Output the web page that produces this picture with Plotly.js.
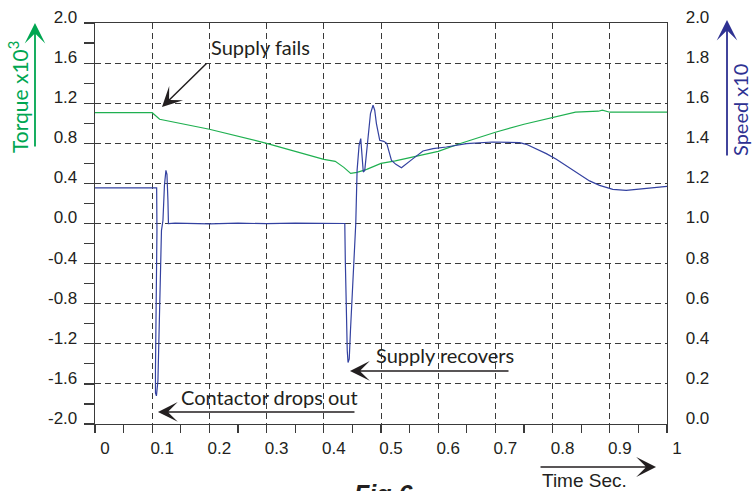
<!DOCTYPE html>
<html>
<head>
<meta charset="utf-8">
<script src="https://cdn.plot.ly/plotly-3.0.1.min.js"></script>
<style>html,body{margin:0;padding:0;background:#fff;}#chart{width:752px;height:491px;}</style>
</head>
<body>
<div id="chart"></div>
<script>
// ---- data ----
const timeTorque = [0, 0.10, 0.113, 0.2, 0.3, 0.4, 0.42, 0.435, 0.447, 0.458,
                    0.475, 0.5, 0.525, 0.555, 0.6, 0.64, 0.7, 0.75, 0.8, 0.84,
                    0.88, 0.887, 0.9, 1.0];
const torque     = [1.105, 1.105, 1.04, 0.94, 0.80, 0.64, 0.62, 0.56, 0.50, 0.51,
                    0.54, 0.60, 0.625, 0.66, 0.72, 0.80, 0.91, 0.99, 1.06, 1.11,
                    1.12, 1.13, 1.11, 1.11];

const timeSpeed = [0, 0.1078, 0.1083, 0.1066, 0.1057, 0.1057, 0.1074, 0.110, 0.1118, 0.1135,
                   0.1162, 0.1188, 0.1214, 0.124, 0.1258, 0.1275, 0.1284, 0.14, 0.2, 0.25,
                   0.3, 0.35, 0.4, 0.4367, 0.4376, 0.4393, 0.441, 0.4424, 0.4445, 0.4466,
                   0.4489, 0.4512, 0.4559, 0.4582, 0.4617, 0.4646, 0.4676, 0.469, 0.4716, 0.4756,
                   0.4816, 0.4861, 0.489, 0.492, 0.4978, 0.5048, 0.51, 0.5183, 0.526, 0.5357,
                   0.545, 0.556, 0.5734, 0.591, 0.6143, 0.6493, 0.695, 0.7424, 0.754, 0.789,
                   0.8065, 0.8355, 0.8646, 0.8821, 0.9053, 0.9287, 0.9636, 1.0];
const speed     = [1.178, 1.178, 0.965, 0.615, 0.265, 0.155, 0.14, 0.215, 0.465, 0.715,
                   0.965, 1.015, 1.19, 1.265, 1.245, 1.115, 1.0, 1.002, 0.998, 1.002,
                   0.999, 1.002, 1.0, 1.0, 0.815, 0.515, 0.365, 0.307, 0.325, 0.465,
                   0.615, 0.73, 1.0, 1.265, 1.39, 1.4235, 1.315, 1.257, 1.265, 1.39,
                   1.5485, 1.59, 1.565, 1.4985, 1.415, 1.41, 1.40, 1.315, 1.295, 1.2785,
                   1.2975, 1.3235, 1.3615, 1.3735, 1.3815, 1.3985, 1.4065, 1.4035, 1.395, 1.3485,
                   1.32, 1.265, 1.2125, 1.19, 1.17, 1.165, 1.1735, 1.185];

const xTickVals  = [0, 0.1, 0.2, 0.3, 0.4, 0.5, 0.6, 0.7, 0.8, 0.9, 1];
const xTickText  = ['0', '0.1', '0.2', '0.3', '0.4', '0.5', '0.6', '0.7', '0.8', '0.9', '1'];
const yTickVals  = [-2, -1.6, -1.2, -0.8, -0.4, 0, 0.4, 0.8, 1.2, 1.6, 2];
const yTickText  = ['-2.0', '-1.6', '-1.2', '-0.8', '-0.4', '0.0', '0.4', '0.8', '1.2', '1.6', '2.0'];
const y2TickVals = [0, 0.2, 0.4, 0.6, 0.8, 1.0, 1.2, 1.4, 1.6, 1.8, 2.0];
const y2TickText = ['0.0', '0.2', '0.4', '0.6', '0.8', '1.0', '1.2', '1.4', '1.6', '1.8', '2.0'];

// ---- styles ----
const GREEN = '#1fb050', BLUE = '#3341a0', INK = '#231f20', AX = '#3a3a3a';
const tickFont = {family: 'Liberation Sans, Arial, sans-serif', size: 17, color: INK};
const noteFont = {family: 'Lato, sans-serif', size: 20, color: INK};

const traces = [
  {x: timeTorque, y: torque, type: 'scatter', mode: 'lines', yaxis: 'y',
   line: {color: GREEN, width: 1.2}, hoverinfo: 'skip'},
  {x: timeSpeed, y: speed, type: 'scatter', mode: 'lines', yaxis: 'y2',
   line: {color: BLUE, width: 1.2}, hoverinfo: 'skip'}
];

function arrow(x, y, ax, ay, ref, color, w, size) {
  return {x: x, y: y, xref: ref === 'paper' ? 'paper' : 'x', yref: ref === 'paper' ? 'paper' : 'y',
          text: '', showarrow: true, ax: ax, ay: ay, arrowhead: 3,
          arrowsize: size || 2.2, arrowwidth: w || 1.5, arrowcolor: color || INK,
          standoff: 0, startstandoff: 0};
}
function label(x, y, ref, text, font, angle) {
  return {x: x, y: y, xref: ref === 'paper' ? 'paper' : 'x', yref: ref === 'paper' ? 'paper' : 'y',
          xanchor: 'center', yanchor: 'middle', text: text, showarrow: false,
          textangle: angle || 0, font: font};
}

const annotations = [
  label(0.2885, 1.761, 'x', 'Supply fails', noteFont),
  arrow(0.1171, 1.162, 46, -45),
  label(0.6119, -1.312, 'x', 'Supply recovers', noteFont),
  arrow(0.4458, -1.471, 160, 0),
  label(0.3059, -1.731, 'x', 'Contactor drops out', noteFont),
  arrow(0.1101, -1.880, 198, 0),
  label(0.8566, -0.1421, 'paper', 'Time Sec.',
        {family: 'Liberation Sans, Arial, sans-serif', size: 19, color: INK}),
  arrow(0.9808, -0.1072, -117, 0, 'paper'),
  {x: 0.4493, y: -0.1347, xref: 'paper', yref: 'paper', xanchor: 'left', yanchor: 'top',
   text: 'Fig 6', showarrow: false,
   font: {family: 'Liberation Sans, Arial, sans-serif', size: 25, color: INK, weight: 'bold', style: 'italic'}},
  label(-0.1346, 0.8155, 'paper', 'Torque x10<sup>3</sup>',
        {family: 'Lato, sans-serif', size: 21, color: '#00a651'}, -90),
  arrow(-0.1049, 1.0, 0, 125, 'paper', '#00a651', 1.8, 1.9),
  label(1.1276, 0.783, 'paper', 'Speed x10',
        {family: 'Lato, sans-serif', size: 20, color: '#2e3192'}, -90),
  arrow(1.1049, 1.0075, 0, 137, 'paper', '#2e3192', 1.8, 1.9)
];

const layout = {
  width: 752, height: 491,
  margin: {l: 95, r: 85, t: 23, b: 67, pad: 0},
  paper_bgcolor: '#ffffff', plot_bgcolor: '#ffffff',
  showlegend: false,
  xaxis: {
    range: [0, 1], tickmode: 'array', tickvals: xTickVals, ticktext: xTickText,
    showline: true, linecolor: AX, linewidth: 1.3, mirror: true,
    ticks: 'outside', ticklen: 8, tickcolor: AX, tickwidth: 1.2,
    showgrid: true, gridcolor: AX, gridwidth: 1, griddash: '6px,4px',
    zeroline: false, tickfont: tickFont, ticklabelshift: 10,
    minor: {tickmode: 'linear', tick0: 0, dtick: 0.05, ticks: 'outside', ticklen: 8,
            tickcolor: AX, tickwidth: 1.2, showgrid: false}
  },
  yaxis: {
    range: [-2, 2], tickmode: 'array', tickvals: yTickVals, ticktext: yTickText,
    showline: true, linecolor: AX, linewidth: 1.3, mirror: true,
    ticks: 'outside', ticklen: 10, tickcolor: AX, tickwidth: 1.2,
    showgrid: true, gridcolor: AX, gridwidth: 1, griddash: '6px,4px',
    zeroline: false, tickfont: tickFont, ticklabelshift: -6, ticklabelstandoff: 3,
    minor: {tickmode: 'linear', tick0: 0, dtick: 0.2, ticks: 'outside', ticklen: 10,
            tickcolor: AX, tickwidth: 1.2, showgrid: false}
  },
  yaxis2: {
    overlaying: 'y', side: 'right', range: [0, 2],
    tickmode: 'array', tickvals: y2TickVals, ticktext: y2TickText,
    showline: true, linecolor: AX, linewidth: 1.3,
    ticks: '', showgrid: false, zeroline: false,
    tickfont: tickFont, ticklabelshift: -6, ticklabelstandoff: 14
  },
  annotations: annotations
};

Plotly.newPlot('chart', traces, layout, {staticPlot: true, displayModeBar: false});
</script>
</body>
</html>
